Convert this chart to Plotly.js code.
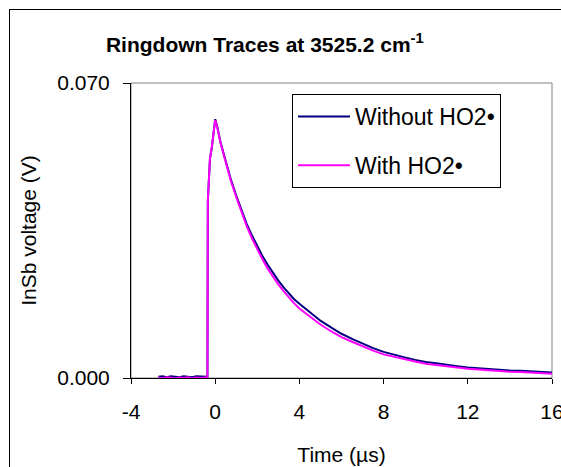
<!DOCTYPE html>
<html>
<head>
<meta charset="utf-8">
<script src="https://cdn.plot.ly/plotly-3.0.1.min.js"></script>
<style>
  html, body { margin: 0; padding: 0; background: #fff; }
  #wrap { position: relative; width: 561px; height: 467px; overflow: hidden; }
  #chart { position: absolute; left: 0; top: 0; width: 561px; height: 467px; }
  #frame { position: absolute; left: 9px; top: 9px; width: 700px; height: 600px;
           border-left: 1px solid #000; border-top: 1px solid #000; pointer-events: none; }
</style>
</head>
<body>
<div id="wrap"><div id="chart"></div><div id="frame"></div></div>
<script>
// Time axis (µs)
const timeUs = [-2.7, -2.5, -2.3, -2.1, -1.9, -1.7, -1.5, -1.3, -1.1, -0.9, -0.7, -0.5, -0.37,
  -0.35, -0.25, -0.15, -0.05, 0.0, 0.1,
  0.25, 0.5, 0.75, 1.0, 1.25, 1.5, 1.75, 2.0, 2.25, 2.5, 2.75, 3.0, 3.25, 3.5, 3.75, 4.0,
  4.5, 5.0, 5.5, 6.0, 6.5, 7.0, 7.5, 8.0, 8.5, 9.0, 9.5, 10.0, 10.5, 11.0, 11.5, 12.0,
  12.5, 13.0, 13.5, 14.0, 14.5, 15.0, 15.5, 16.0];

// InSb voltage (V) without HO2
const withoutHO2 = [0.0003, 0.0004, 0.0002, 0.0004, 0.0003, 0.0002, 0.0004, 0.0003, 0.0002, 0.0004, 0.0003, 0.0002, 0.0003,
  0.0420, 0.0520, 0.0550, 0.0590, 0.0614, 0.0596,
  0.0560, 0.0515, 0.0470, 0.0433, 0.0398, 0.0365, 0.0338, 0.0312, 0.0289, 0.0268, 0.0249, 0.0231, 0.0215, 0.0200, 0.0187, 0.0176,
  0.0155, 0.0136, 0.0120, 0.0105, 0.0093, 0.0082, 0.0071, 0.0062, 0.0055, 0.0049, 0.0043, 0.0038, 0.0035, 0.0031, 0.0028, 0.0025,
  0.0023, 0.0021, 0.0019, 0.0018, 0.0017, 0.0016, 0.0014, 0.0013];

// InSb voltage (V) with HO2
const withHO2 = [0.0001, -0.0001, 0.0002, 0.0000, -0.0001, 0.0001, 0.0000, 0.0002, -0.0001, 0.0001, 0.0000, 0.0001, 0.0002,
  0.0420, 0.0520, 0.0552, 0.0588, 0.0612, 0.0594,
  0.0558, 0.0512, 0.0467, 0.0429, 0.0393, 0.0360, 0.0331, 0.0304, 0.0281, 0.0259, 0.0240, 0.0222, 0.0206, 0.0191, 0.0177, 0.0165,
  0.0145, 0.0127, 0.0111, 0.0097, 0.0086, 0.0075, 0.0065, 0.0056, 0.0050, 0.0044, 0.0039, 0.0034, 0.0031, 0.0027, 0.0025, 0.0022,
  0.0020, 0.0018, 0.0016, 0.0015, 0.0014, 0.0013, 0.0012, 0.0010];

const seriesNames = ['Without HO2\u2022', 'With HO2\u2022'];
const yTickVals = [0, 0.07];
const yTickText = ['0.000', '0.070'];
const xTickVals = [-4, 0, 4, 8, 12, 16];
const xTickText = ['-4', '0', '4', '8', '12', '16'];

const FONT = 'Liberation Sans, Arial, sans-serif';

const traces = [
  { x: timeUs, y: withoutHO2, name: seriesNames[0], type: 'scatter', mode: 'lines',
    line: { color: '#000080', width: 2 }, legendgroup: 'a' },
  { x: timeUs, y: withHO2, name: seriesNames[1], type: 'scatter', mode: 'lines',
    line: { color: '#FF00FF', width: 2 }, legendgroup: 'b' }
];

const layout = {
  width: 561, height: 467,
  margin: { l: 131, r: 9, t: 83, b: 89, pad: 0 },
  paper_bgcolor: '#fff', plot_bgcolor: '#fff',
  font: { family: FONT, size: 21, color: '#000' },
  showlegend: true,
  title: { text: '<b>Ringdown Traces at 3525.2 cm<sup>-1</sup></b>', font: { family: FONT, size: 21, color: '#000' },
           x: 0.472, xref: 'container', xanchor: 'center', y: 0.904, yref: 'container', yanchor: 'middle' },
  xaxis: {
    range: [-4, 16], tickvals: xTickVals, ticktext: xTickText, ticks: 'outside', ticklen: 5, tickcolor: '#000',
    showline: true, linecolor: '#000', linewidth: 1, showgrid: false, zeroline: false,
    tickfont: { family: FONT, size: 21 }, ticklabelstandoff: 10, ticklabeloverflow: 'allow',
    title: { text: 'Time (\u00b5s)', font: { family: FONT, size: 21 }, standoff: 25 }
  },
  yaxis: {
    range: [0, 0.07], tickvals: yTickVals, ticktext: yTickText, ticks: 'outside', ticklen: 7, tickcolor: '#000',
    showline: true, linecolor: '#000', linewidth: 1, showgrid: false, zeroline: false,
    tickfont: { family: FONT, size: 21 }, ticklabelstandoff: 9,
    title: { text: 'InSb voltage (V)', font: { family: FONT, size: 21 }, standoff: 14 }
  },
  legend: {
    x: (292 - 131) / 421, y: 1 - (94 - 83) / 295, xanchor: 'left', yanchor: 'top',
    bgcolor: '#fff', bordercolor: '#000', borderwidth: 1,
    font: { family: FONT, size: 23 }, traceorder: 'grouped', tracegroupgap: 16, itemwidth: 52
  },
  shapes: [
    { type: 'rect', xref: 'paper', yref: 'paper', x0: 0, y0: 0, x1: 1, y1: 1,
      line: { color: '#808080', width: 1 }, layer: 'below' }
  ]
};

Plotly.newPlot('chart', traces, layout, { displayModeBar: false, staticPlot: true });
</script>
</body>
</html>
